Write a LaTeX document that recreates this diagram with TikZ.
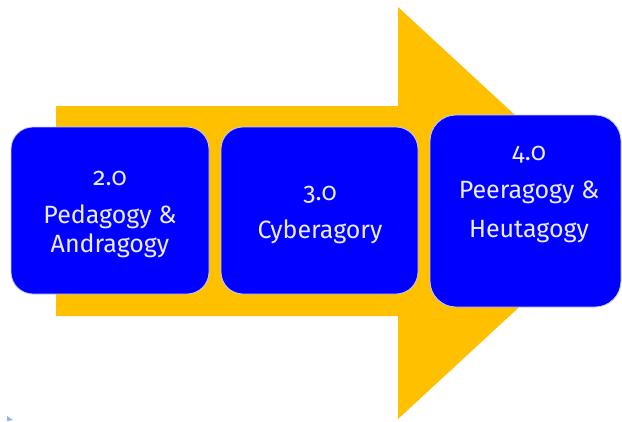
\documentclass[tikz,border=0pt]{standalone}
\usepackage{fontspec}
\setmainfont{Fira Sans}[Numbers=OldStyle]
\definecolor{arrowgold}{HTML}{FFC000}
\definecolor{boxblue}{HTML}{0000FF}
\definecolor{boxedge}{HTML}{C8C8FF}
\definecolor{txt}{HTML}{ECECFF}
\definecolor{speck}{HTML}{8AB4E8}
\begin{document}
\begin{tikzpicture}[x=1pt,y=-1pt,
  stagebox/.style={draw=boxedge, line width=0.8pt, fill=boxblue, rounded corners=22pt, inner sep=0pt},
  stagetext/.style={text=txt, font=\fontsize{25}{30}\selectfont, anchor=base, inner sep=0pt}]
\useasboundingbox (0,0) rectangle (622,421);
% big arrow
\fill[arrowgold] (56,106) -- (398,106) -- (398,7) -- (621,213) -- (398,419) -- (398,316) -- (56,316) -- cycle;
% boxes
\node[stagebox, minimum width=198pt, minimum height=167pt] (b1) at (110,210.5) {};
\node[stagebox, minimum width=197pt, minimum height=167pt] (b2) at (319.5,210.5) {};
\node[stagebox, minimum width=191pt, minimum height=192pt, rounded corners=26pt] (b4) at (525.5,211) {};
% texts
\node[stagetext] (t1a) at (110,185) {2.0};
\node[stagetext] (t1b) at (110,223) {Pedagogy \&};
\node[stagetext] (t1c) at (110,252) {Andragogy};
\node[stagetext] (t2a) at (320,200) {3.0};
\node[stagetext] (t2b) at (320,238) {Cyberagory};
\node[stagetext] (t4a) at (529,160) {4.0};
\node[stagetext] (t4b) at (529,198) {Peeragogy \&};
\node[stagetext] (t4c) at (529,237) {Heutagogy};
% small speck
\fill[speck] (7,416) -- (13,420) -- (7,421) -- cycle;
\end{tikzpicture}
\end{document}
